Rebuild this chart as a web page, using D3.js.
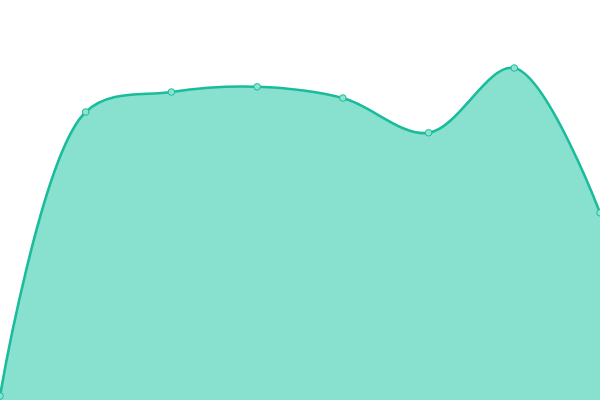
<!DOCTYPE html>
<html>
<head>
<meta charset="UTF-8">
<style>
  body { margin: 0; background: #fff; }
  svg { display: block; }
</style>
<script src="https://d3js.org/d3.v7.min.js"></script>
</head>
<body>
<div id="chart"></div>
<script>
  var labels = ["A", "B", "C", "D", "E", "F", "G", "H"];
  var values = [1, 72, 77, 78.3, 75.5, 66.8, 83, 46.8];

  var w = 600, h = 400;
  var lineColor = "#1abc9c", fillColor = "#88e0cf";

  var svg = d3.select("#chart").append("svg")
    .attr("width", w)
    .attr("height", h);

  var x = d3.scalePoint().domain(labels).range([0, w]);
  var y = d3.scaleLinear().domain([0, 100]).range([h, 0]);

  var data = labels.map(function(l, i) { return { label: l, value: values[i] }; });
  var curve = d3.curveCatmullRom.alpha(0.5);

  svg.append("path")
    .datum(data)
    .attr("fill", fillColor)
    .attr("d", d3.area()
      .x(function(d) { return x(d.label); })
      .y0(h)
      .y1(function(d) { return y(d.value); })
      .curve(curve));

  svg.append("path")
    .datum(data)
    .attr("fill", "none")
    .attr("stroke", lineColor)
    .attr("stroke-width", 2.6)
    .attr("d", d3.line()
      .x(function(d) { return x(d.label); })
      .y(function(d) { return y(d.value); })
      .curve(curve));

  // point markers
  svg.selectAll("circle")
    .data(data)
    .enter().append("circle")
    .attr("cx", function(d) { return x(d.label); })
    .attr("cy", function(d) { return y(d.value); })
    .attr("r", 3.3)
    .attr("fill", "#8ee2d2")
    .attr("stroke", lineColor)
    .attr("stroke-width", 1);
</script>
</body>
</html>
